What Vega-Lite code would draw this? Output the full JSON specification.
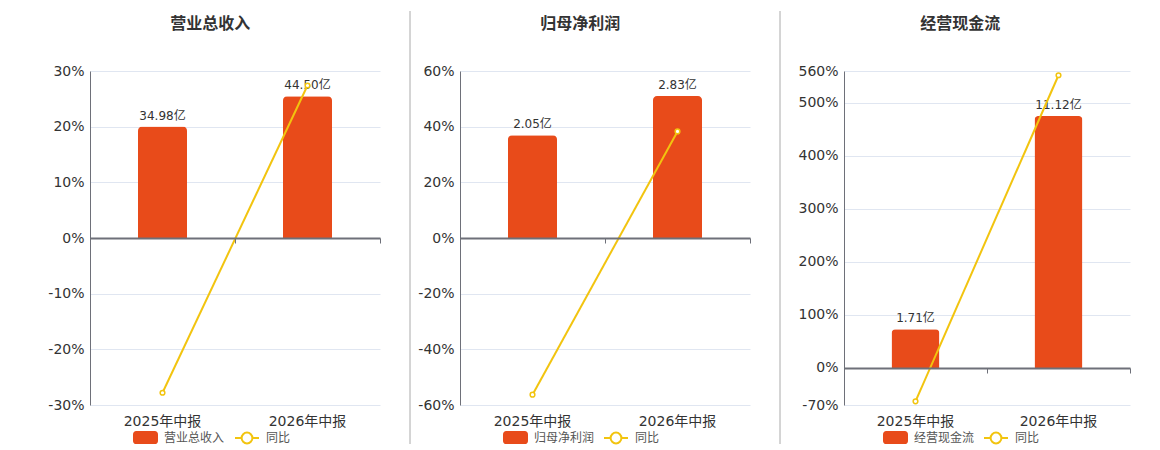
{
  "$schema": "https://vega.github.io/schema/vega-lite/v6.json",
  "padding": {"left": 47, "top": 10, "right": 0, "bottom": 0},
  "background": "white",
  "datasets": {
    "rev": [
      {"period": "2025年中报", "value": 34.98, "label": "34.98亿", "yoy": -27.8},
      {"period": "2026年中报", "value": 44.50, "label": "44.50亿", "yoy": 27.4}
    ],
    "profit": [
      {"period": "2025年中报", "value": 2.05, "label": "2.05亿", "yoy": -56.3},
      {"period": "2026年中报", "value": 2.83, "label": "2.83亿", "yoy": 38.3}
    ],
    "cash": [
      {"period": "2025年中报", "value": 1.71, "label": "1.71亿", "yoy": -63},
      {"period": "2026年中报", "value": 11.12, "label": "11.12亿", "yoy": 552}
    ]
  },
  "hconcat": [
    {
      "width": 290,
      "height": 334,
      "data": {"name": "rev"},
      "title": {"text": "营业总收入", "fontSize": 16, "fontWeight": "bold", "color": "#333", "frame": "bounds", "anchor": "middle", "offset": 32, "dx": -4},
      "layer": [
        {
          "mark": {"type": "bar", "size": 49, "cornerRadiusTopLeft": 4, "cornerRadiusTopRight": 4, "color": "#E84B1A"},
          "encoding": {
            "x": {"field": "period", "type": "nominal", "sort": null, "scale": {"paddingInner": 0, "paddingOuter": 0},
              "axis": {"title": null, "labelAngle": 0, "labelFontSize": 14, "labelColor": "#333", "domain": false, "ticks": false, "grid": false, "labelPadding": 9}},
            "y": {"field": "value", "type": "quantitative", "scale": {"domain": [-52.41, 52.41], "nice": false, "zero": false}, "axis": null},
            "color": {"datum": "营业总收入", "scale": {"range": ["#E84B1A"]},
              "legend": {"title": null, "orient": "none", "legendX": 43, "legendY": 354, "padding": 0, "symbolType": "M-0.75,-0.52H0.75A0.25,0.25 0 0 1 1,-0.27V0.27A0.25,0.25 0 0 1 0.75,0.52H-0.75A0.25,0.25 0 0 1 -1,0.27V-0.27A0.25,0.25 0 0 1 -0.75,-0.52Z", "symbolSize": 625, "symbolStrokeWidth": 0, "labelFontSize": 12, "labelColor": "#555", "labelOffset": 6}}
          }
        },
        {
          "mark": {"type": "text", "baseline": "bottom", "dy": -4, "fontSize": 12, "color": "#333"},
          "encoding": {
            "x": {"field": "period", "type": "nominal", "sort": null, "axis": null},
            "y": {"field": "value", "type": "quantitative", "scale": {"domain": [-52.41, 52.41], "nice": false, "zero": false}, "axis": null},
            "text": {"field": "label"}
          }
        },
        {
          "mark": {"type": "line", "strokeWidth": 2},
          "encoding": {
            "x": {"field": "period", "type": "nominal", "sort": null,
              "axis": {"orient": "bottom", "offset": -167, "labels": false, "title": null, "grid": false, "domain": true, "domainColor": "#6E7079", "domainWidth": 2, "ticks": true, "tickColor": "#6E7079", "tickSize": 5, "tickBand": "extent", "zindex": 1}},
            "y": {"field": "yoy", "type": "quantitative", "scale": {"domain": [-30, 30], "nice": false, "zero": false},
              "axis": {"title": null, "values": [-30, -20, -10, 0, 10, 20, 30], "labelExpr": "datum.value + '%'", "labelFontSize": 14, "labelColor": "#333", "labelPadding": 6, "ticks": false, "domain": true, "domainColor": "#6E7079", "grid": true, "gridColor": "#E0E6F1"}},
            "stroke": {"datum": "同比", "scale": {"range": ["#F2C40F"]},
              "legend": {"title": null, "orient": "none", "legendX": 144, "legendY": 354, "padding": 0, "symbolType": "M-1,0L-0.45,0M0.45,0L1,0M0.45,0A0.45,0.45 0 1 1 -0.45,0A0.45,0.45 0 1 1 0.45,0", "symbolSize": 576, "symbolStrokeWidth": 2, "symbolFillColor": "white", "labelFontSize": 12, "labelColor": "#555", "labelOffset": 6,
                "encode": {"symbols": {"update": {"fill": {"value": "white"}, "stroke": {"value": "#F2C40F"}, "strokeWidth": {"value": 2}}}}}}
          }
        },
        {
          "mark": {"type": "point", "filled": true, "fill": "white", "stroke": "#F2C40F", "strokeWidth": 1.5, "size": 22, "opacity": 1},
          "encoding": {
            "x": {"field": "period", "type": "nominal", "sort": null, "axis": null},
            "y": {"field": "yoy", "type": "quantitative", "scale": {"domain": [-30, 30], "nice": false, "zero": false}, "axis": null}
          }
        }
      ],
      "resolve": {"scale": {"y": "independent"}, "axis": {"x": "independent", "y": "independent"}}
    },
    {
      "width": 20,
      "height": 334,
      "data": {"values": [{}]},
      "mark": {"type": "rule", "color": "#AAAAAA", "strokeWidth": 1},
      "encoding": {
        "x": {"datum": 0, "type": "quantitative", "scale": {"domain": [0, 1]}, "axis": null},
        "y": {"datum": 394, "type": "quantitative", "scale": {"domain": [0, 334], "nice": false, "zero": false}, "axis": null},
        "y2": {"datum": -39}
      }
    },
    {
      "width": 290,
      "height": 334,
      "data": {"name": "profit"},
      "title": {"text": "归母净利润", "fontSize": 16, "fontWeight": "bold", "color": "#333", "frame": "bounds", "anchor": "middle", "offset": 32, "dx": -4},
      "layer": [
        {
          "mark": {"type": "bar", "size": 49, "cornerRadiusTopLeft": 4, "cornerRadiusTopRight": 4, "color": "#E84B1A"},
          "encoding": {
            "x": {"field": "period", "type": "nominal", "sort": null, "scale": {"paddingInner": 0, "paddingOuter": 0},
              "axis": {"title": null, "labelAngle": 0, "labelFontSize": 14, "labelColor": "#333", "domain": false, "ticks": false, "grid": false, "labelPadding": 9}},
            "y": {"field": "value", "type": "quantitative", "scale": {"domain": [-3.33, 3.33], "nice": false, "zero": false}, "axis": null},
            "color": {"datum": "归母净利润", "scale": {"range": ["#E84B1A"]},
              "legend": {"title": null, "orient": "none", "legendX": 43, "legendY": 354, "padding": 0, "symbolType": "M-0.75,-0.52H0.75A0.25,0.25 0 0 1 1,-0.27V0.27A0.25,0.25 0 0 1 0.75,0.52H-0.75A0.25,0.25 0 0 1 -1,0.27V-0.27A0.25,0.25 0 0 1 -0.75,-0.52Z", "symbolSize": 625, "symbolStrokeWidth": 0, "labelFontSize": 12, "labelColor": "#555", "labelOffset": 6}}
          }
        },
        {
          "mark": {"type": "text", "baseline": "bottom", "dy": -4, "fontSize": 12, "color": "#333"},
          "encoding": {
            "x": {"field": "period", "type": "nominal", "sort": null, "axis": null},
            "y": {"field": "value", "type": "quantitative", "scale": {"domain": [-3.33, 3.33], "nice": false, "zero": false}, "axis": null},
            "text": {"field": "label"}
          }
        },
        {
          "mark": {"type": "line", "strokeWidth": 2},
          "encoding": {
            "x": {"field": "period", "type": "nominal", "sort": null,
              "axis": {"orient": "bottom", "offset": -167, "labels": false, "title": null, "grid": false, "domain": true, "domainColor": "#6E7079", "domainWidth": 2, "ticks": true, "tickColor": "#6E7079", "tickSize": 5, "tickBand": "extent", "zindex": 1}},
            "y": {"field": "yoy", "type": "quantitative", "scale": {"domain": [-60, 60], "nice": false, "zero": false},
              "axis": {"title": null, "values": [-60, -40, -20, 0, 20, 40, 60], "labelExpr": "datum.value + '%'", "labelFontSize": 14, "labelColor": "#333", "labelPadding": 6, "ticks": false, "domain": true, "domainColor": "#6E7079", "grid": true, "gridColor": "#E0E6F1"}},
            "stroke": {"datum": "同比", "scale": {"range": ["#F2C40F"]},
              "legend": {"title": null, "orient": "none", "legendX": 143, "legendY": 354, "padding": 0, "symbolType": "M-1,0L-0.45,0M0.45,0L1,0M0.45,0A0.45,0.45 0 1 1 -0.45,0A0.45,0.45 0 1 1 0.45,0", "symbolSize": 576, "symbolStrokeWidth": 2, "symbolFillColor": "white", "labelFontSize": 12, "labelColor": "#555", "labelOffset": 6,
                "encode": {"symbols": {"update": {"fill": {"value": "white"}, "stroke": {"value": "#F2C40F"}, "strokeWidth": {"value": 2}}}}}}
          }
        },
        {
          "mark": {"type": "point", "filled": true, "fill": "white", "stroke": "#F2C40F", "strokeWidth": 1.5, "size": 22, "opacity": 1},
          "encoding": {
            "x": {"field": "period", "type": "nominal", "sort": null, "axis": null},
            "y": {"field": "yoy", "type": "quantitative", "scale": {"domain": [-60, 60], "nice": false, "zero": false}, "axis": null}
          }
        }
      ],
      "resolve": {"scale": {"y": "independent"}, "axis": {"x": "independent", "y": "independent"}}
    },
    {
      "width": 34,
      "height": 334,
      "data": {"values": [{}]},
      "mark": {"type": "rule", "color": "#AAAAAA", "strokeWidth": 1},
      "encoding": {
        "x": {"datum": 0, "type": "quantitative", "scale": {"domain": [0, 1]}, "axis": null},
        "y": {"datum": 394, "type": "quantitative", "scale": {"domain": [0, 334], "nice": false, "zero": false}, "axis": null},
        "y2": {"datum": -39}
      }
    },
    {
      "width": 286,
      "height": 334,
      "data": {"name": "cash"},
      "title": {"text": "经营现金流", "fontSize": 16, "fontWeight": "bold", "color": "#333", "frame": "bounds", "anchor": "middle", "offset": 32, "dx": -4},
      "layer": [
        {
          "mark": {"type": "bar", "size": 48, "cornerRadiusTopLeft": 4, "cornerRadiusTopRight": 4, "color": "#E84B1A"},
          "encoding": {
            "x": {"field": "period", "type": "nominal", "sort": null, "scale": {"paddingInner": 0, "paddingOuter": 0},
              "axis": {"title": null, "labelAngle": 0, "labelFontSize": 14, "labelColor": "#333", "domain": false, "ticks": false, "grid": false, "labelPadding": 9}},
            "y": {"field": "value", "type": "quantitative", "scale": {"domain": [-1.638, 13.104], "nice": false, "zero": false}, "axis": null},
            "color": {"datum": "经营现金流", "scale": {"range": ["#E84B1A"]},
              "legend": {"title": null, "orient": "none", "legendX": 39, "legendY": 354, "padding": 0, "symbolType": "M-0.75,-0.52H0.75A0.25,0.25 0 0 1 1,-0.27V0.27A0.25,0.25 0 0 1 0.75,0.52H-0.75A0.25,0.25 0 0 1 -1,0.27V-0.27A0.25,0.25 0 0 1 -0.75,-0.52Z", "symbolSize": 625, "symbolStrokeWidth": 0, "labelFontSize": 12, "labelColor": "#555", "labelOffset": 6}}
          }
        },
        {
          "mark": {"type": "text", "baseline": "bottom", "dy": -4, "fontSize": 12, "color": "#333"},
          "encoding": {
            "x": {"field": "period", "type": "nominal", "sort": null, "axis": null},
            "y": {"field": "value", "type": "quantitative", "scale": {"domain": [-1.638, 13.104], "nice": false, "zero": false}, "axis": null},
            "text": {"field": "label"}
          }
        },
        {
          "mark": {"type": "line", "strokeWidth": 2},
          "encoding": {
            "x": {"field": "period", "type": "nominal", "sort": null,
              "axis": {"orient": "bottom", "offset": -37, "labels": false, "title": null, "grid": false, "domain": true, "domainColor": "#6E7079", "domainWidth": 2, "ticks": true, "tickColor": "#6E7079", "tickSize": 5, "tickBand": "extent", "zindex": 1}},
            "y": {"field": "yoy", "type": "quantitative", "scale": {"domain": [-70, 560], "nice": false, "zero": false},
              "axis": {"title": null, "values": [-70, 0, 100, 200, 300, 400, 500, 560], "labelExpr": "datum.value + '%'", "labelFontSize": 14, "labelColor": "#333", "labelPadding": 6, "ticks": false, "domain": true, "domainColor": "#6E7079", "grid": true, "gridColor": "#E0E6F1"}},
            "stroke": {"datum": "同比", "scale": {"range": ["#F2C40F"]},
              "legend": {"title": null, "orient": "none", "legendX": 139, "legendY": 354, "padding": 0, "symbolType": "M-1,0L-0.45,0M0.45,0L1,0M0.45,0A0.45,0.45 0 1 1 -0.45,0A0.45,0.45 0 1 1 0.45,0", "symbolSize": 576, "symbolStrokeWidth": 2, "symbolFillColor": "white", "labelFontSize": 12, "labelColor": "#555", "labelOffset": 6,
                "encode": {"symbols": {"update": {"fill": {"value": "white"}, "stroke": {"value": "#F2C40F"}, "strokeWidth": {"value": 2}}}}}}
          }
        },
        {
          "mark": {"type": "point", "filled": true, "fill": "white", "stroke": "#F2C40F", "strokeWidth": 1.5, "size": 22, "opacity": 1},
          "encoding": {
            "x": {"field": "period", "type": "nominal", "sort": null, "axis": null},
            "y": {"field": "yoy", "type": "quantitative", "scale": {"domain": [-70, 560], "nice": false, "zero": false}, "axis": null}
          }
        }
      ],
      "resolve": {"scale": {"y": "independent"}, "axis": {"x": "independent", "y": "independent"}}
    }
  ],
  "spacing": 30,
  "bounds": "flush",
  "resolve": {"scale": {"x": "independent", "y": "independent", "color": "independent", "stroke": "independent"}, "legend": {"color": "independent", "stroke": "independent"}},
  "config": {
    "view": {"stroke": null},
    "font": "DejaVu Sans, Noto Sans CJK SC, sans-serif"
  }
}
